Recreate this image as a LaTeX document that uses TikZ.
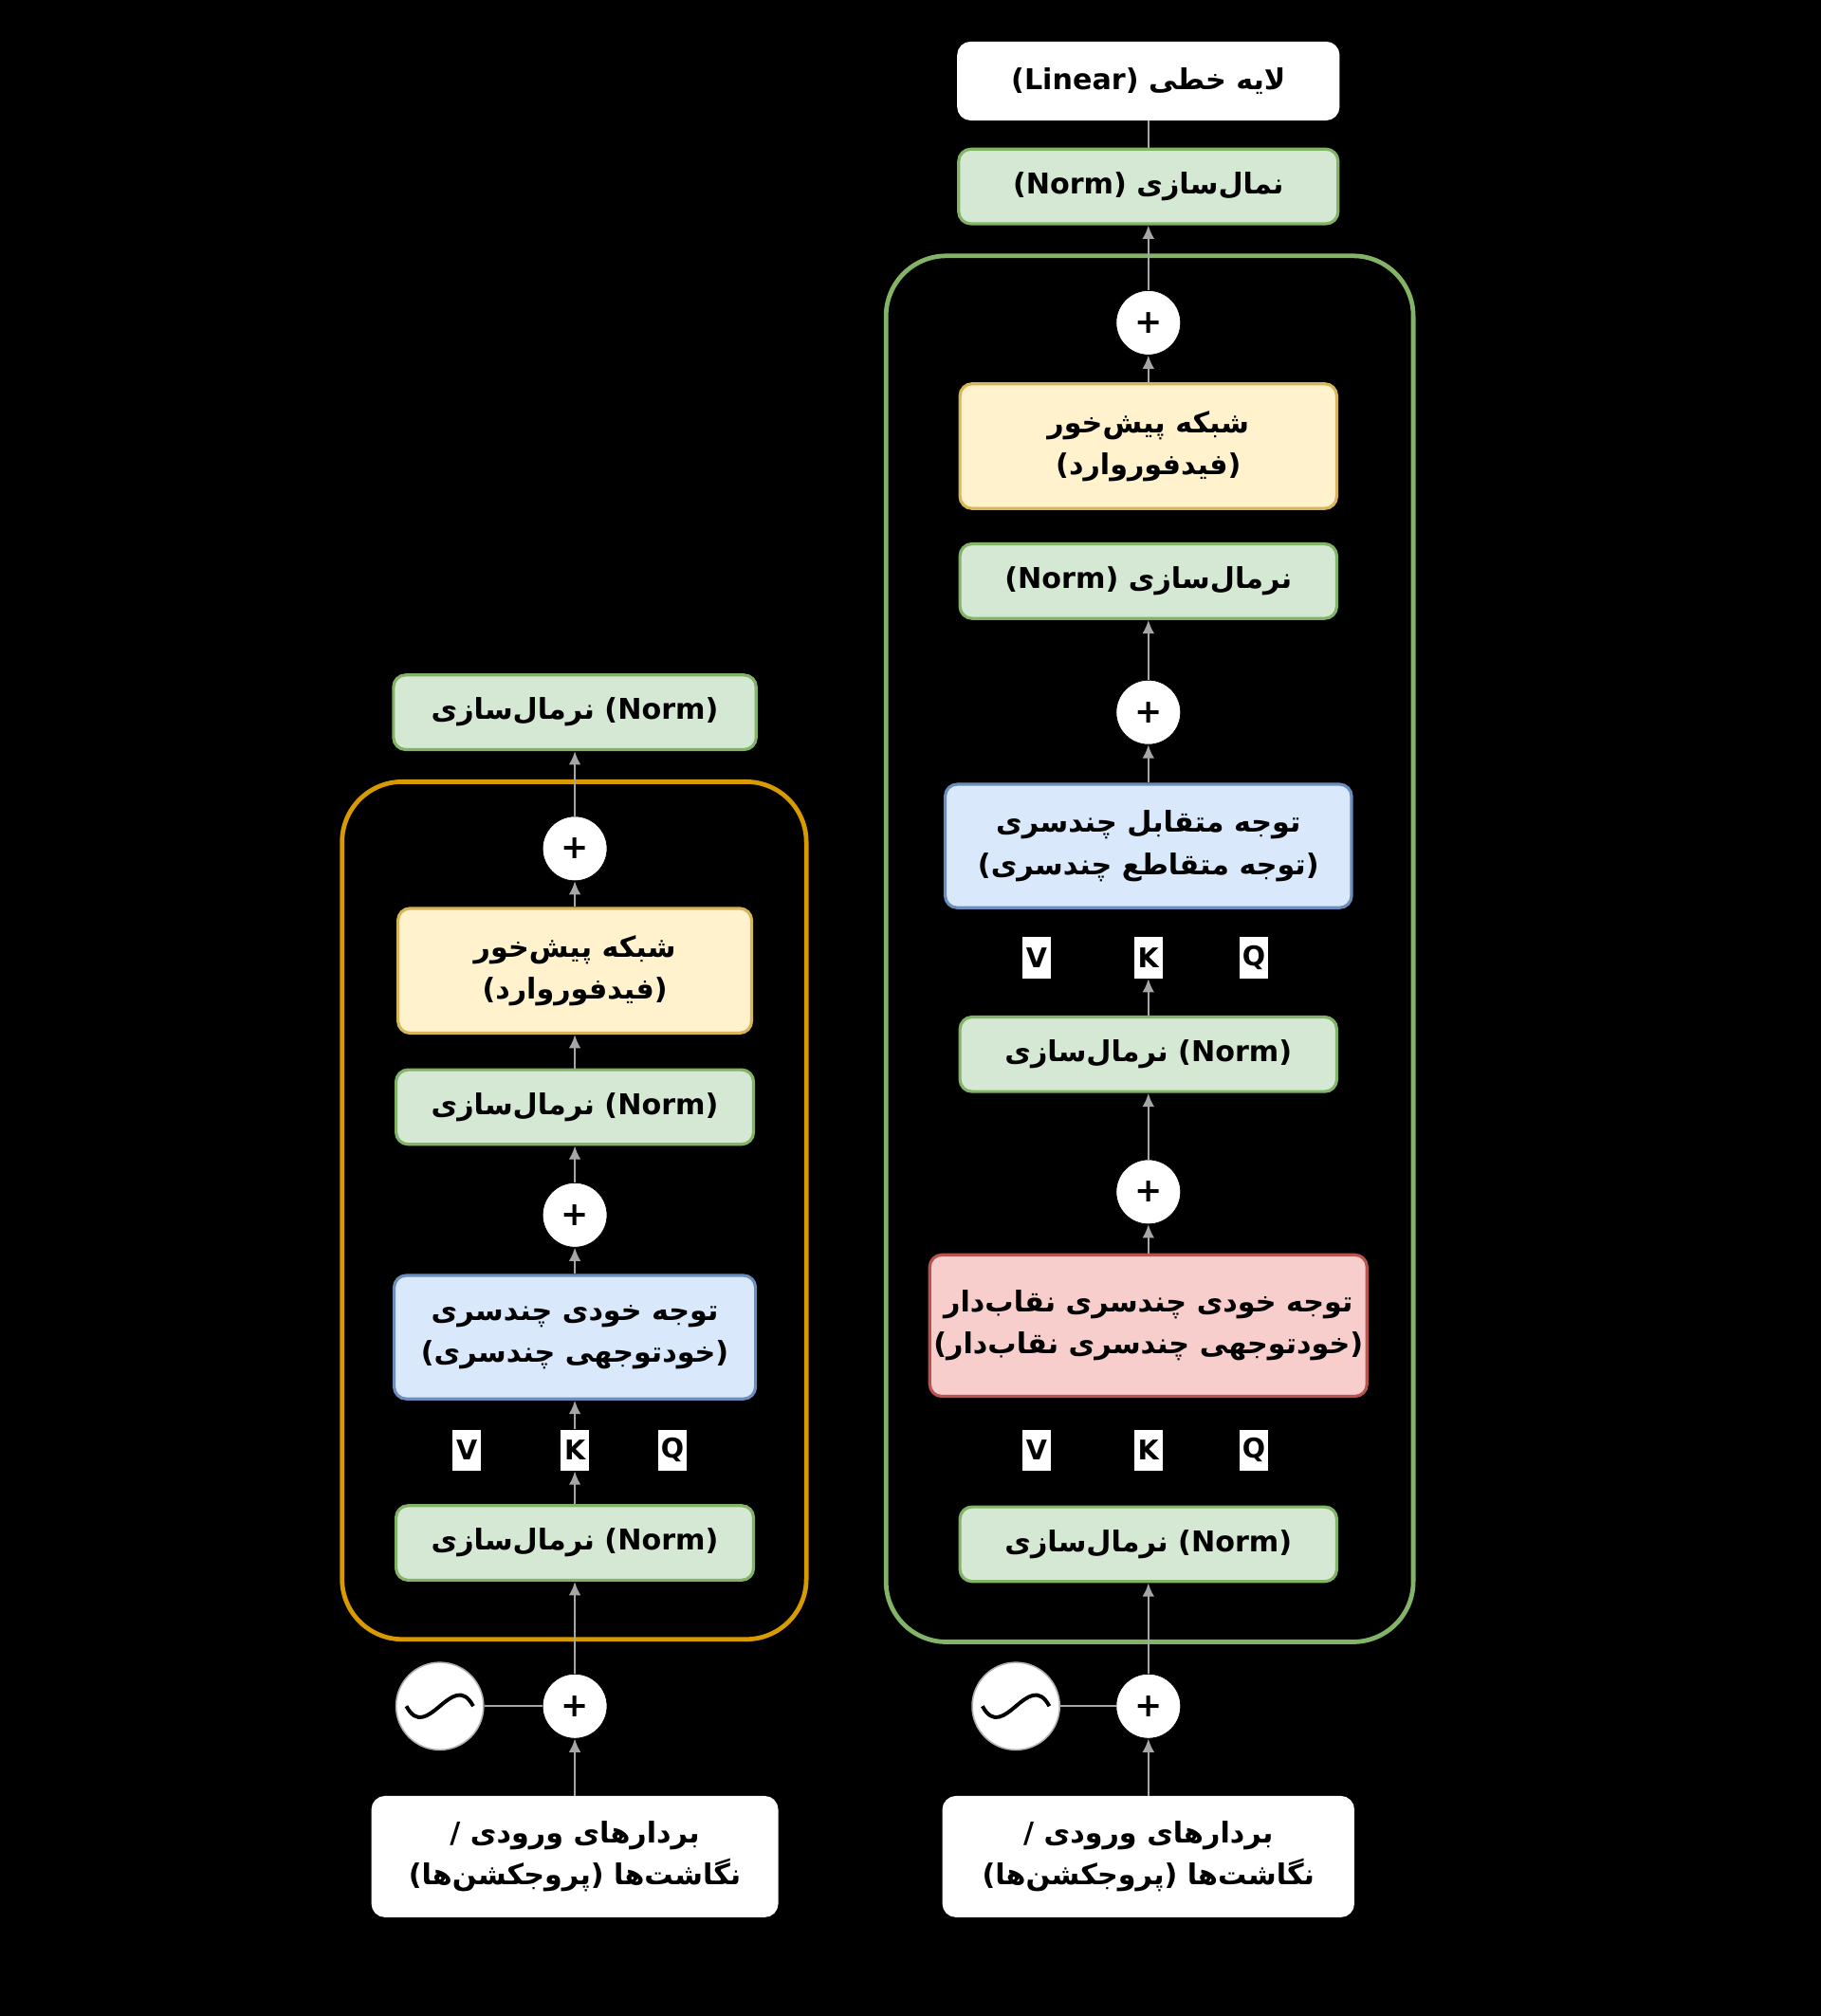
\documentclass[tikz,border=0pt]{standalone}
\usepackage{fontspec}
\setmainfont{DejaVu Sans}
\newfontfamily\farsi[Script=Arabic]{DejaVu Sans}
\usetikzlibrary{arrows.meta}
\TeXXeTstate=1
\newcommand{\fa}[1]{{\farsi\beginR #1\endR}}
\newcommand{\U}{0.8536pt}
\definecolor{gfill}{HTML}{D5E8D4}\definecolor{gline}{HTML}{82B366}
\definecolor{yfill}{HTML}{FFF2CC}\definecolor{yline}{HTML}{D6B656}
\definecolor{bfill}{HTML}{DAE8FC}\definecolor{bline}{HTML}{6C8EBF}
\definecolor{rfill}{HTML}{F8CECC}\definecolor{rline}{HTML}{B85450}
\definecolor{oline}{HTML}{D79B00}
\tikzset{
  box/.style={draw, line width=2pt, rounded corners=8pt, align=center,
    font=\fontsize{19}{28}\selectfont\bfseries, inner sep=0pt},
  norm/.style={box, fill=gfill, draw=gline, minimum width=278*\U, minimum height=58*\U},
  ff/.style={box, fill=yfill, draw=yline, minimum width=278*\U, minimum height=97*\U},
  attn/.style={box, fill=bfill, draw=bline, minimum height=96*\U},
  mask/.style={box, fill=rfill, draw=rline, minimum width=340*\U, minimum height=110*\U},
  io/.style={box, fill=white, draw=white, minimum height=92*\U},
  plus/.style={circle, fill=white, draw=black, minimum size=50*\U, inner sep=0pt,
    font=\fontsize{22}{22}\selectfont\bfseries},
  qkv/.style={fill=white, minimum width=22*\U, minimum height=32*\U, inner sep=0pt,
    font=\fontsize{18}{18}\selectfont\bfseries},
  arr/.style={draw=gray!70, line width=1.5pt, -{Latex[length=9pt,width=8pt]}},
  cont/.style={line width=3pt, rounded corners=40pt},
}
\newcommand{\posenc}[2]{%
  \node[circle, fill=white, draw=gray!60, line width=1pt, minimum size=68*\U, inner sep=0pt] (#1) at (#2) {};
  \draw[line width=2.5pt] ([xshift=-26*\U]#1.center) .. controls ([xshift=-10*\U,yshift=-30*\U]#1.center) and ([xshift=10*\U,yshift=30*\U]#1.center) .. ([xshift=26*\U]#1.center);
}
\begin{document}
\begin{tikzpicture}[x=0.03cm, y=-0.03cm]
  \fill[black] (0,0) rectangle (1416,1568);
  \useasboundingbox (0,0) rectangle (1416,1568);

  % encoder
  \draw[cont, draw=oline] (266,608) rectangle (627,1275);
  \node[io, minimum width=314*\U] (ein) at (447,1444) {\fa{بردارهای ورودی /}\\ (\fa{پروجکشن‌ها}) \fa{نگاشت‌ها}};
  \node[plus] (epos) at (447,1327) {+};
  \posenc{ewave}{342,1327}
  \node[norm] (en1) at (447,1200) {\fa{نرمال‌سازی} (Norm)};
  \node[qkv] (ev) at (363,1128) {V};
  \node[qkv] (ek) at (447,1128) {K};
  \node[qkv] (eq) at (523,1128) {Q};
  \node[attn, minimum width=281*\U] (eatt) at (447,1040) {\fa{توجه خودی چندسری}\\(\fa{خودتوجهی چندسری})};
  \node[plus] (ep1) at (447,945) {+};
  \node[norm] (en2) at (447,861) {\fa{نرمال‌سازی} (Norm)};
  \node[ff, minimum width=275*\U] (eff) at (447,755) {\fa{شبکه پیش‌خور}\\(\fa{فیدفوروارد})};
  \node[plus] (ep2) at (447,660) {+};
  \node[norm, minimum width=282*\U] (en3) at (447,554) {\fa{نرمال‌سازی} (Norm)};

  \draw[draw=gray!70, line width=1.5pt] (ewave) -- (epos);
  \draw[arr] (ein) -- (epos);
  \draw[arr] (epos) -- (en1);
  \draw[arr] (en1) -- (ek);
  \draw[arr] (ek) -- (eatt);
  \draw[arr] (eatt) -- (ep1);
  \draw[arr] (ep1) -- (en2);
  \draw[arr] (en2) -- (eff);
  \draw[arr] (eff) -- (ep2);
  \draw[arr] (ep2) -- (en3);

  % decoder
  \draw[cont, draw=gline] (689,199) rectangle (1099,1277);
  \node[io, minimum width=318*\U] (din) at (893,1444) {\fa{بردارهای ورودی /}\\ (\fa{پروجکشن‌ها}) \fa{نگاشت‌ها}};
  \node[plus] (dpos) at (893,1327) {+};
  \posenc{dwave}{790,1327}
  \node[norm, minimum width=293*\U] (dn1) at (893,1201) {\fa{نرمال‌سازی} (Norm)};
  \node[qkv] (dv1) at (806,1128) {V};
  \node[qkv] (dk1) at (893,1128) {K};
  \node[qkv] (dq1) at (975,1128) {Q};
  \node[mask] (dmask) at (893,1031) {\fa{توجه خودی چندسری نقاب‌دار}\\(\fa{خودتوجهی چندسری نقاب‌دار})};
  \node[plus] (dp1) at (893,927) {+};
  \node[norm, minimum width=293*\U] (dn2) at (893,820) {\fa{نرمال‌سازی} (Norm)};
  \node[qkv] (dv2) at (806,745) {V};
  \node[qkv] (dk2) at (893,745) {K};
  \node[qkv] (dq2) at (975,745) {Q};
  \node[attn, minimum width=316*\U] (dcross) at (893,658) {\fa{توجه متقابل چندسری}\\(\fa{توجه متقاطع چندسری})};
  \node[plus] (dp2) at (893,554) {+};
  \node[norm, minimum width=293*\U] (dn3) at (893,452) {(Norm) \fa{نرمال‌سازی}};
  \node[ff, minimum width=293*\U] (dff) at (893,347) {\fa{شبکه پیش‌خور}\\(\fa{فیدفوروارد})};
  \node[plus] (dp3) at (893,251) {+};
  \node[norm, minimum width=295*\U] (dn4) at (893,145) {(Norm) \fa{نمال‌سازی}};
  \node[io, minimum width=295*\U, minimum height=59*\U] (dlin) at (893,63) {(Linear) \fa{لایه خطی}};

  \draw[draw=gray!70, line width=1.5pt] (dwave) -- (dpos);
  \draw[arr] (din) -- (dpos);
  \draw[arr] (dpos) -- (dn1);
  \draw[arr] (dmask) -- (dp1);
  \draw[arr] (dp1) -- (dn2);
  \draw[arr] (dn2) -- (dk2);
  \draw[arr] (dcross) -- (dp2);
  \draw[arr] (dp2) -- (dn3);
  \draw[arr] (dff) -- (dp3);
  \draw[arr] (dp3) -- (dn4);
  \draw[draw=gray!70, line width=1.5pt] (dn4) -- (dlin);
\end{tikzpicture}
\end{document}
